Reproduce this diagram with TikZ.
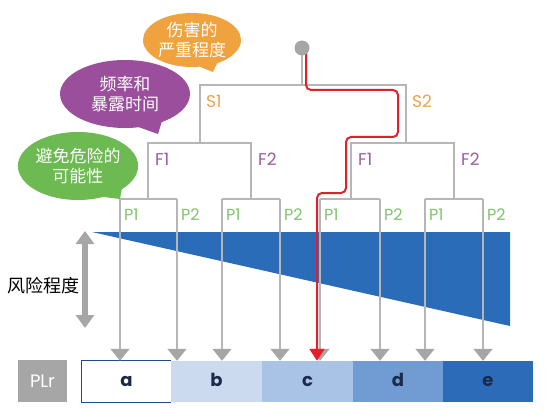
\documentclass[tikz,border=0pt]{standalone}
\usepackage{fontspec}
\setmainfont{Poppins}
\newfontfamily\cjk{Noto Sans CJK SC}
\usetikzlibrary{arrows.meta, calc, shapes.callouts, shapes.geometric}
\definecolor{treegray}{HTML}{B6B6B6}
\definecolor{tipgray}{HTML}{A6A6A6}
\definecolor{pathred}{HTML}{E0202A}
\definecolor{riskblue}{HTML}{2B6CB8}
\definecolor{sorange}{HTML}{EBA24F}
\definecolor{fpurple}{HTML}{9B5AA1}
\definecolor{pgreen}{HTML}{7DC46A}
\definecolor{bubbleorange}{HTML}{F0A23E}
\definecolor{bubblepurple}{HTML}{9A4E9C}
\definecolor{bubblegreen}{HTML}{6DBA52}
\definecolor{segb}{HTML}{CCDAF0}
\definecolor{segc}{HTML}{A9C3E6}
\definecolor{segd}{HTML}{709BD3}
\definecolor{sege}{HTML}{2C6BB8}
\definecolor{segtext}{HTML}{1B2A4A}

\begin{document}
\begin{tikzpicture}[x=1pt, y=-1pt,
    tree/.style={draw=treegray, line width=1.5pt},
    leaf/.style={draw=treegray, line width=1.5pt, -{Triangle[width=19pt,length=12pt,color=tipgray]}},
    redpath/.style={draw=pathred, line width=2pt, rounded corners=5pt, -{Triangle[width=15pt,length=12pt]}},
    slab/.style={anchor=west, inner sep=1pt, text=sorange, font=\fontsize{17}{20}\selectfont},
    flab/.style={anchor=west, inner sep=1pt, text=fpurple, font=\fontsize{17}{20}\selectfont},
    plab/.style={anchor=west, inner sep=1pt, text=pgreen, font=\fontsize{16}{19}\selectfont},
    bubble/.style={ellipse callout, callout pointer arc=22, inner sep=0pt, text=white, align=center,
        font=\cjk\fontsize{17}{20.5}\selectfont},
    seg/.style={minimum height=41pt, inner sep=0pt, text=segtext, text height=12pt, text depth=2pt,
        font=\bfseries\fontsize{18}{20}\selectfont}]
    \useasboundingbox (0,0) rectangle (555,420);
    % Risk wedge behind the branches
    \fill[riskblue] (92,232) -- (510,232) -- (510,326) -- cycle;
    % Speech bubbles
    \node[bubble, fill=bubbleorange, minimum width=98pt, minimum height=54pt,
        callout absolute pointer={(213,72)}] (hurt) at (192,40) {伤害的\\严重程度};
    \node[bubble, fill=bubblepurple, minimum width=130pt, minimum height=68pt,
        callout absolute pointer={(158,134)}] (freq) at (125,94) {频率和\\暴露时间};
    \node[bubble, fill=bubblegreen, minimum width=120pt, minimum height=68pt,
        callout absolute pointer={(120,199)}] (avoid) at (78,166) {避免危险的\\可能性};
    % Tree junctions
    \coordinate (root) at (302,48);
    \coordinate (top) at (302,85);
    \coordinate (s1) at (200,143);
    \coordinate (s2) at (406,143);
    \coordinate (f11) at (148,199);
    \coordinate (f12) at (251,199);
    \coordinate (f21) at (351,199);
    \coordinate (f22) at (454,199);
    \coordinate (p111) at (120,199);
    \coordinate (p112) at (177,199);
    \coordinate (p121) at (222,199);
    \coordinate (p122) at (280,199);
    \coordinate (p211) at (320,199);
    \coordinate (p212) at (380,199);
    \coordinate (p221) at (425,199);
    \coordinate (p222) at (483,199);
    % PLr bar
    \node[minimum width=49pt, minimum height=42pt, inner sep=0pt, fill=tipgray, text=white,
        font=\fontsize{18}{20}\selectfont] (plr) at (42.5,381) {PLr};
    \node[seg, minimum width=89pt, fill=white] (sega) at (126.5,381.5) {a};
    \node[seg, minimum width=91pt, fill=segb] (segb) at (216.5,381.5) {b};
    \node[seg, minimum width=91pt, fill=segc] (segc) at (307.5,381.5) {c};
    \node[seg, minimum width=90pt, fill=segd] (segd) at (398,381.5) {d};
    \node[seg, minimum width=90pt, fill=sege] (sege) at (488,381.5) {e};
    \draw[riskblue!70!black, line width=1pt] (sega.north east) -| (sega.south west) -- (sega.south east);
    % Branches
    \draw[tree] (root) -- (top);
    \draw[tree] (s1) |- (top) -| (s2);
    \draw[tree] (f11) |- (s1) -| (f12);
    \draw[tree] (f21) |- (s2) -| (f22);
    \draw[tree] (p111) |- (f11) -| (p112);
    \draw[tree] (p121) |- (f12) -| (p122);
    \draw[tree] (p211) |- (f21) -| (p212);
    \draw[tree] (p221) |- (f22) -| (p222);
    % Leaves down to the PLr bar
    \draw[leaf] (p111) -- (p111 |- sega.north);
    \draw[leaf] (p112) -- (p112 |- segb.north);
    \draw[leaf] (p121) -- (p121 |- segb.north);
    \draw[leaf] (p122) -- (p122 |- segc.north);
    \draw[leaf] (p211) -- (p211 |- segc.north);
    \draw[leaf] (p212) -- (p212 |- segd.north);
    \draw[leaf] (p221) -- (p221 |- segd.north);
    \draw[leaf] (p222) -- (p222 |- sege.north);
    % Chosen path (red)
    \draw[redpath] ($(root)+(4,0)$) |- ($(s2)+(-8,-53)$) |- ($(f21)+(-5,-62)$)
        |- ($(p211)+(-3,-6)$) -- ($(p211 |- segc.north)+(-3,0)$);
    \node[circle, fill=tipgray, minimum size=15pt, inner sep=0pt] (knob) at (root) {};
    % Branch labels
    \node[slab] (lS1) at ($(top -| s1)+(5,16)$) {S1};
    \node[slab] (lS2) at ($(top -| s2)+(5,16)$) {S2};
    \node[flab] (lF11) at ($(s1 -| f11)+(6,16)$) {F1};
    \node[flab] (lF12) at ($(s1 -| f12)+(6,16)$) {F2};
    \node[flab] (lF21) at ($(s2 -| f21)+(6,16)$) {F1};
    \node[flab] (lF22) at ($(s2 -| f22)+(6,16)$) {F2};
    \node[plab] (lP111) at ($(p111)+(3,16)$) {P1};
    \node[plab] (lP112) at ($(p112)+(3,16)$) {P2};
    \node[plab] (lP121) at ($(p121)+(3,16)$) {P1};
    \node[plab] (lP122) at ($(p122)+(3,16)$) {P2};
    \node[plab] (lP211) at ($(p211)+(3,16)$) {P1};
    \node[plab] (lP212) at ($(p212)+(3,16)$) {P2};
    \node[plab] (lP221) at ($(p221)+(3,16)$) {P1};
    \node[plab] (lP222) at ($(p222)+(3,16)$) {P2};
    % Risk scale
    \coordinate (rtop) at (85,231);
    \coordinate (rbot) at (85,328);
    \draw[draw=tipgray, line width=6pt, {Triangle[width=18pt,length=13pt]}-{Triangle[width=18pt,length=13pt]}] (rtop) -- (rbot);
    \node[font=\cjk\fontsize{18}{20}\selectfont] (risk) at (44,286) {风险程度};
\end{tikzpicture}
\end{document}
